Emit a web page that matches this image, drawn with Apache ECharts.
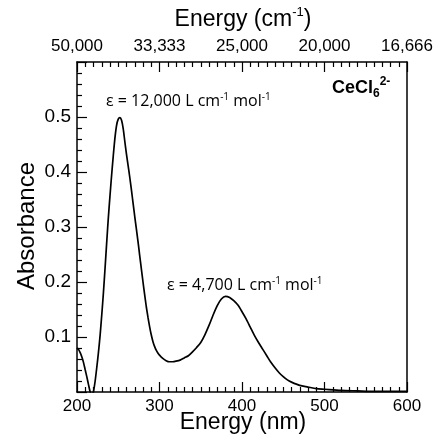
<!DOCTYPE html>
<html>
<head>
<meta charset="utf-8">
<script src="https://cdn.jsdelivr.net/npm/echarts@6/dist/echarts.min.js"></script>
<style>html,body{margin:0;padding:0;background:#fff}#c{width:436px;height:440px}</style>
</head>
<body>
<div id="c"></div>
<script>
// Wavelength (nm) and absorbance
var wavelengths = [200,202,204,206,208,210,212,214,216,218,220,222,224,226,228,230,232,234,236,238,240,242,244,246,248,250,252,254,256,258,260,262,264,266,268,270,272,274,276,278,280,282,284,286,288,290,292,294,296,298,300,304,308,312,316,320,325,330,335,340,345,350,355,360,365,370,375,380,385,390,395,400,405,410,415,420,425,430,435,440,445,450,455,460,470,480,490,500,520,540,560,580,600];
var absorbance  = [0.080,0.077,0.071,0.063,0.053,0.040,0.027,0.013,0.000,-0.008,0.001,0.020,0.045,0.072,0.103,0.140,0.180,0.225,0.272,0.317,0.357,0.395,0.430,0.462,0.485,0.496,0.499,0.494,0.479,0.455,0.432,0.411,0.390,0.367,0.343,0.319,0.296,0.273,0.248,0.224,0.200,0.177,0.155,0.136,0.119,0.104,0.092,0.083,0.076,0.071,0.067,0.061,0.057,0.055,0.055,0.056,0.058,0.062,0.066,0.073,0.081,0.090,0.104,0.121,0.140,0.157,0.169,0.174,0.172,0.166,0.158,0.146,0.133,0.118,0.103,0.090,0.078,0.066,0.054,0.044,0.035,0.028,0.022,0.018,0.012,0.009,0.006,0.005,0.003,0.002,0.001,0.001,0.001];
var bottomTicks = [200,300,400,500,600];
var topTickLabels = ['50,000','33,333','25,000','20,000','16,666'];
var yTickLabels = ['0.1','0.2','0.3','0.4','0.5'];

var data = wavelengths.map(function(w,i){return [w, absorbance[i]];});
var FF = '"Liberation Sans", Arial, sans-serif';
var FF2 = '"Open Sans", "Liberation Sans", sans-serif';

var chart = echarts.init(document.getElementById('c'), null, {renderer:'canvas'});
function axisLine(){ return {show:true, onZero:false, lineStyle:{color:'#000', width:1.5}}; }
var tickStyle = {color:'#000', width:1.2};
chart.setOption({
  animation:false,
  backgroundColor:'#fff',
  grid:{left:77, right:29, top:62, bottom:48},
  xAxis:[{
    type:'value', position:'bottom', min:200, max:600, interval:100,
    axisLine:axisLine(),
    axisTick:{show:true, inside:true, length:10, lineStyle:tickStyle},
    minorTick:{show:true, splitNumber:10, length:5, lineStyle:tickStyle},
    splitLine:{show:false},
    axisLabel:{fontSize:17, color:'#000', fontFamily:FF, margin:6,
      formatter:function(v){var i=bottomTicks.indexOf(v); return i>=0?String(bottomTicks[i]):'';}}
  },{
    type:'value', position:'top', min:200, max:600, interval:100,
    axisLine:axisLine(),
    axisTick:{show:true, inside:true, length:10, lineStyle:tickStyle},
    minorTick:{show:true, splitNumber:10, length:5, lineStyle:tickStyle},
    splitLine:{show:false},
    axisLabel:{fontSize:17, color:'#000', fontFamily:FF, margin:7,
      formatter:function(v){var i=bottomTicks.indexOf(v); return i>=0?topTickLabels[i]:'';}}
  }],
  yAxis:[{
    type:'value', position:'left', min:0, max:0.6, interval:0.1,
    axisLine:axisLine(),
    axisTick:{show:true, inside:true, length:10, lineStyle:tickStyle},
    minorTick:{show:true, splitNumber:5, length:5, lineStyle:tickStyle},
    splitLine:{show:false},
    axisLabel:{fontSize:19, color:'#000', fontFamily:FF, margin:6,
      formatter:function(v){var k=Math.round(v*10); return (k>=1&&k<=5)?yTickLabels[k-1]:'';}}
  },{
    type:'value', position:'right', min:0, max:0.6, interval:0.1,
    axisLine:axisLine(), axisTick:{show:false}, axisLabel:{show:false}, splitLine:{show:false}
  }],
  series:[{
    type:'line', data:data, xAxisIndex:0, yAxisIndex:0,
    showSymbol:false, symbol:'none', smooth:0.25, clip:true,
    lineStyle:{color:'#000', width:1.7}
  }],
  graphic:[
    {type:'text', x:243, y:6, style:{
      text:'{a|Energy (cm}{s|-1}{a|)}', align:'center',
      rich:{a:{fontSize:23, fontFamily:FF, fill:'#000', lineHeight:28},
            s:{fontSize:13, fontFamily:FF, fill:'#000', verticalAlign:'top', lineHeight:18}}
    }},
    {type:'text', x:243, y:423, style:{text:'Energy (nm)', font:'23px '+FF, fill:'#000', align:'center', verticalAlign:'middle'}},
    {type:'text', x:27, y:226, rotation:Math.PI/2, style:{text:'Absorbance', font:'24px '+FF, fill:'#000', align:'center', verticalAlign:'middle'}},
    {type:'text', x:332, y:76, style:{
      text:'{b|CeCl}{sub|6}{sup|2-}',
      rich:{b:{fontSize:18, fontWeight:'bold', fontFamily:FF, fill:'#000', lineHeight:24},
            sub:{fontSize:12, fontWeight:'bold', fontFamily:FF, fill:'#000', verticalAlign:'bottom', lineHeight:13},
            sup:{fontSize:12, fontWeight:'bold', fontFamily:FF, fill:'#000', verticalAlign:'top', lineHeight:13}}
    }},
    {type:'text', x:106, y:92, style:{
      text:'{a|ε = 12,000 L cm}{s|-1}{a| mol}{s|-1}',
      rich:{a:{fontSize:16, fontFamily:FF2, fill:'#000', lineHeight:19},
            s:{fontSize:10, fontFamily:FF2, fill:'#000', verticalAlign:'top', lineHeight:11}}
    }},
    {type:'text', x:167, y:276, style:{
      text:'{a|ε = 4,700 L cm}{s|-1}{a| mol}{s|-1}',
      rich:{a:{fontSize:16, fontFamily:FF2, fill:'#000', lineHeight:19},
            s:{fontSize:10, fontFamily:FF2, fill:'#000', verticalAlign:'top', lineHeight:11}}
    }}
  ]
});
</script>
</body>
</html>
